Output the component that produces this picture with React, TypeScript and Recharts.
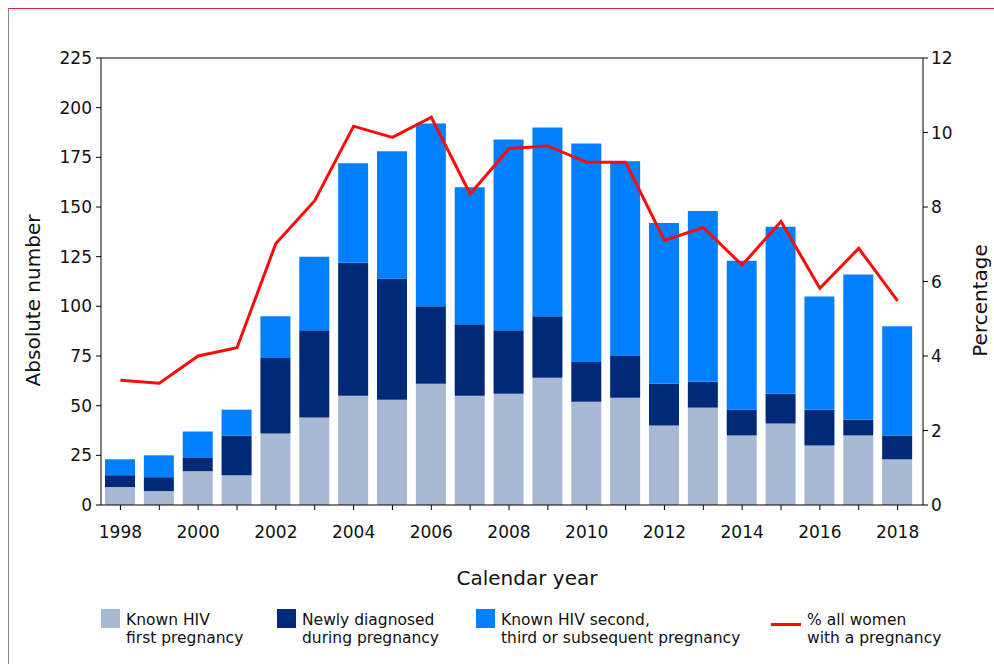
import {
  ComposedChart,
  Bar,
  Line,
  XAxis,
  YAxis,
  Legend,
  Label,
  ReferenceLine,
} from "recharts"

const years = [
  1998, 1999, 2000, 2001, 2002, 2003, 2004, 2005, 2006, 2007, 2008, 2009, 2010,
  2011, 2012, 2013, 2014, 2015, 2016, 2017, 2018,
]
const knownFirst = [9, 7, 17, 15, 36, 44, 55, 53, 61, 55, 56, 64, 52, 54, 40, 49, 35, 41, 30, 35, 23]
const newlyDiagnosed = [6, 7, 7, 20, 38, 44, 67, 61, 39, 36, 32, 31, 20, 21, 21, 13, 13, 15, 18, 8, 12]
const knownSubsequent = [8, 11, 13, 13, 21, 37, 50, 64, 92, 69, 96, 95, 110, 98, 81, 86, 75, 84, 57, 73, 55]
const pctAllWomen = [
  3.35, 3.27, 4.0, 4.22, 7.02, 8.17, 10.17, 9.87, 10.41, 8.35, 9.57, 9.64, 9.2, 9.2,
  7.1, 7.45, 6.44, 7.61, 5.82, 6.89, 5.48,
]
const leftTicks = [0, 25, 50, 75, 100, 125, 150, 175, 200, 225]
const rightTicks = [0, 2, 4, 6, 8, 10, 12]

const FONT = "'DejaVu Sans', Verdana, sans-serif"

const chartData = years.map((year, i) => ({
  year,
  knownFirst: knownFirst[i],
  newlyDiagnosed: newlyDiagnosed[i],
  knownSubsequent: knownSubsequent[i],
  pct: pctAllWomen[i],
}))

const legendItems = [
  { kind: "box", color: "#A7B9D4", lines: ["Known HIV", "first pregnancy"], x: 92 },
  { kind: "box", color: "#002A78", lines: ["Newly diagnosed", "during pregnancy"], x: 268 },
  { kind: "box", color: "#0080FF", lines: ["Known HIV second,", "third or subsequent pregnancy"], x: 467 },
  { kind: "line", color: "#FF0A0A", lines: ["% all women", "with a pregnancy"], x: 762 },
]

function ChartLegend() {
  return (
    <div style={{ position: "relative", width: 985, height: 60, fontFamily: FONT, fontSize: 15.5, color: "#111" }}>
      {legendItems.map((item) => (
        <div key={item.lines[0]}>
          {item.kind === "box" ? (
            <div style={{ position: "absolute", left: item.x, top: 14, width: 19, height: 19, background: item.color }} />
          ) : (
            <div style={{ position: "absolute", left: item.x, top: 28, width: 30, height: 3, background: item.color }} />
          )}
          <div
            style={{
              position: "absolute",
              left: item.x + (item.kind === "box" ? 25 : 36),
              top: 16,
              lineHeight: "18px",
              whiteSpace: "nowrap",
            }}
          >
            {item.lines[0]}
            <br />
            {item.lines[1]}
          </div>
        </div>
      ))}
    </div>
  )
}

function AxisTitle({ viewBox, text, dx, dy, rotate }: any) {
  const { x, y, width, height } = viewBox
  const cx = rotate ? x + dx : x + width / 2 + dx
  const cy = rotate ? y + height / 2 + dy : y + dy
  return (
    <text
      x={cx}
      y={cy}
      textAnchor="middle"
      dominantBaseline="central"
      fontSize={20}
      fontFamily={FONT}
      fill="#111"
      transform={rotate ? `rotate(-90 ${cx} ${cy})` : undefined}
    >
      {text}
    </text>
  )
}

export default function App() {
  const tickStyle = { fontSize: 17, fontFamily: FONT, fill: "#111" }
  return (
    <div
      style={{
        position: "absolute",
        left: 8,
        top: 8,
        width: 985,
        height: 655,
        borderTop: "1px solid #E8202A",
        borderLeft: "1px solid #888",
        background: "#fff",
      }}
    >
      <style>{"html, body { margin: 0; overflow: hidden; } .recharts-surface { overflow: visible; }"}</style>
      <ComposedChart
        width={985}
        height={655}
        data={chartData}
        margin={{ top: 49, right: 0, bottom: 9, left: 0 }}
      >
        <XAxis
          dataKey="year"
          interval={0}
          tickFormatter={(y: number) => (y % 2 === 0 ? String(y) : "")}
          tick={tickStyle}
          tickSize={5}
          tickMargin={16}
          axisLine={{ stroke: "#000" }}
          tickLine={{ stroke: "#000" }}
          height={90}
          padding={{ left: 0, right: 6 }}
        >
          <Label content={(p: any) => <AxisTitle viewBox={p.viewBox} text="Calendar year" dx={15} dy={73} />} />
        </XAxis>
        <YAxis
          yAxisId="left"
          domain={[0, 225]}
          ticks={leftTicks}
          width={92}
          tick={tickStyle}
          tickSize={5}
          tickMargin={4}
          axisLine={{ stroke: "#000" }}
          tickLine={{ stroke: "#000" }}
        >
          <Label content={(p: any) => <AxisTitle viewBox={p.viewBox} text="Absolute number" dx={24} dy={19} rotate />} />
        </YAxis>
        <YAxis
          yAxisId="right"
          orientation="right"
          domain={[0, 12]}
          ticks={rightTicks}
          width={71}
          tick={tickStyle}
          tickSize={5}
          tickMargin={3}
          axisLine={{ stroke: "#000" }}
          tickLine={{ stroke: "#000" }}
        >
          <Label content={(p: any) => <AxisTitle viewBox={p.viewBox} text="Percentage" dx={57} dy={19} rotate />} />
        </YAxis>
        <ReferenceLine yAxisId="left" y={225} stroke="#000" />
        <Bar yAxisId="left" dataKey="knownFirst" stackId="a" fill="#A7B9D4" barSize={30} isAnimationActive={false} />
        <Bar yAxisId="left" dataKey="newlyDiagnosed" stackId="a" fill="#002A78" barSize={30} isAnimationActive={false} />
        <Bar yAxisId="left" dataKey="knownSubsequent" stackId="a" fill="#0080FF" barSize={30} isAnimationActive={false} />
        <Line
          yAxisId="right"
          dataKey="pct"
          type="linear"
          stroke="#FF0A0A"
          strokeWidth={3}
          dot={false}
          activeDot={false}
          isAnimationActive={false}
        />
        <Legend verticalAlign="bottom" align="left" height={60} wrapperStyle={{ left: 0 }} content={() => <ChartLegend />} />
      </ComposedChart>
    </div>
  )
}
